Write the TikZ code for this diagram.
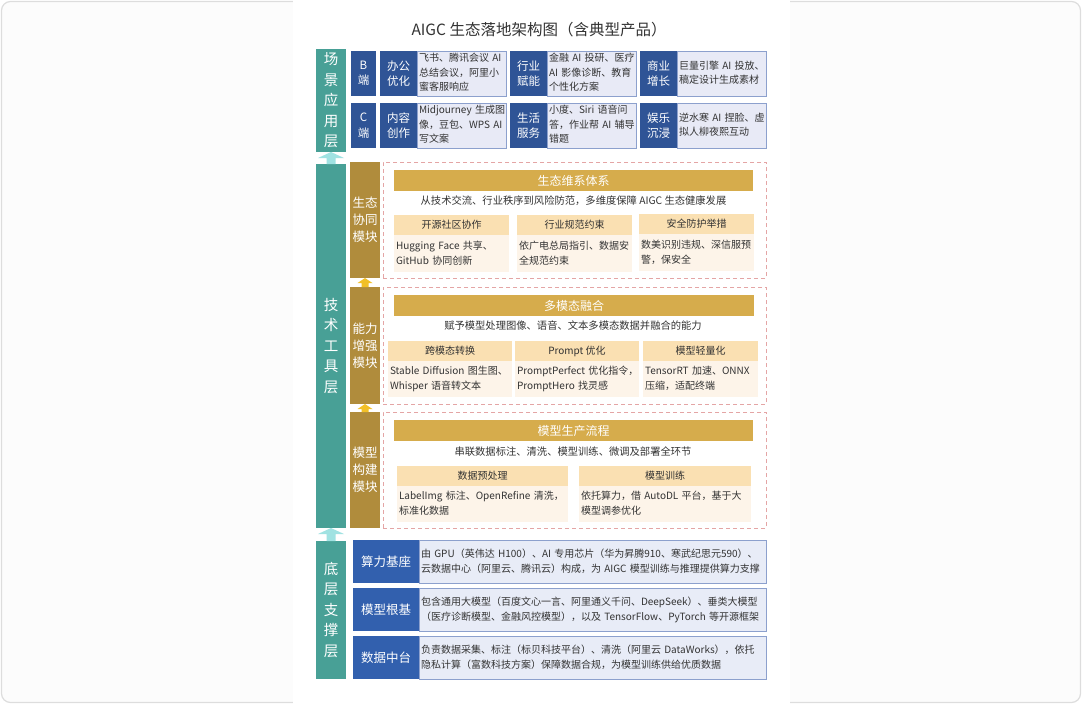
\documentclass[tikz,border=0pt]{standalone}
\usepackage{fontspec}
\setmainfont{Noto Sans CJK SC}
\usetikzlibrary{calc}
\definecolor{framegray}{RGB}{221,221,221}
\definecolor{framebg}{RGB}{252,252,252}
\definecolor{tealbar}{RGB}{72,160,150}
\definecolor{arrcyan}{RGB}{160,226,226}
\definecolor{scblue}{RGB}{47,84,150}
\definecolor{descfill}{RGB}{232,234,246}
\definecolor{descborder}{RGB}{140,160,205}
\definecolor{modgold}{RGB}{176,140,60}
\definecolor{hdrgold}{RGB}{214,172,76}
\definecolor{subhdrc}{RGB}{250,224,178}
\definecolor{subbodyc}{RGB}{253,244,233}
\definecolor{arrgold}{RGB}{242,192,40}
\definecolor{dashred}{RGB}{228,165,165}
\definecolor{btblue}{RGB}{50,96,174}
\definecolor{btfill}{RGB}{232,236,247}
\definecolor{txt}{RGB}{51,51,51}
\tikzset{
  every node/.style={inner xsep=2pt, inner ysep=0pt, outer sep=0pt, text=txt},
  titlef/.style={font=\fontsize{15.5}{18}\selectfont},
  layerbar/.style={fill=tealbar, text=white, align=center, font=\fontsize{14.5}{20.5}\selectfont},
  sclab/.style={fill=scblue, text=white, align=center, font=\fontsize{11.5}{15.5}\selectfont},
  scdesc/.style={fill=descfill, draw=descborder, line width=0.8pt, align=left, font=\fontsize{10}{14.5}\selectfont},
  modbar/.style={fill=modgold, text=white, align=center, font=\fontsize{12.5}{17}\selectfont},
  dashbox/.style={draw=dashred, line width=0.7pt, dash pattern=on 4pt off 3pt},
  hdrbar/.style={fill=hdrgold, text=white, align=center, font=\fontsize{12}{14}\selectfont},
  subtitlef/.style={font=\fontsize{10.3}{12}\selectfont},
  subhdr/.style={fill=subhdrc, align=center, font=\fontsize{10}{12}\selectfont},
  subbody/.style={fill=subbodyc, align=left, font=\fontsize{10}{15}\selectfont},
  btlab/.style={fill=btblue, text=white, align=center, font=\fontsize{12.5}{14}\selectfont},
  btdesc/.style={fill=btfill, draw=descborder, line width=0.8pt, align=left, font=\fontsize{10}{15}\selectfont},
}
% box by corners, centred text
\newcommand{\bx}[7]{%
  \pgfmathsetmacro\bxw{#5-#3}\pgfmathsetmacro\bxh{#6-#4}%
  \node[#1, minimum width=\bxw pt, minimum height=\bxh pt] (#2) at ({(#3+#5)/2},{(#4+#6)/2}) {#7};}
% box by corners, left-aligned lines
\newcommand{\bxl}[7]{%
  \pgfmathsetmacro\bxw{#5-#3}\pgfmathsetmacro\bxh{#6-#4}\pgfmathsetmacro\bxt{#5-#3-4}%
  \node[#1, minimum width=\bxw pt, minimum height=\bxh pt, text width=\bxt pt] (#2) at ({(#3+#5)/2},{(#4+#6)/2}) {\begin{tabular}{@{}l@{}}#7\end{tabular}};}
% block arrow from node anchor #1 up to node anchor #2
\newcommand{\blockarrow}[6]{%
  \fill[#6] let \p1=(#1), \p2=(#2) in
    (\x1-#3/2,\y1) -- (\x1-#3/2,\y2-#5) -- (\x1-#4/2,\y2-#5) -- (\x1,\y2)
    -- (\x1+#4/2,\y2-#5) -- (\x1+#3/2,\y2-#5) -- (\x1+#3/2,\y1) -- cycle;}
\begin{document}
\begin{tikzpicture}[x=1pt,y=-1pt]
\useasboundingbox (0,0) rectangle (1082,704);
\draw[draw=framegray, fill=framebg, rounded corners=9pt, line width=1.2pt] (1.5,1.5) rectangle (1080.5,702.5);
\fill[white] (293,0) rectangle (790,704);
\node[titlef] (title) at (539,30) {AIGC 生态落地架构图（含典型产品）};

% ---------- scenario layer ----------
\bx{layerbar}{scen}{316}{49}{346}{152}{场\\景\\应\\用\\层}
\bx{sclab}{bend}{351}{51}{376}{96}{B\\端}
\bx{sclab}{cend}{351}{103}{376}{148}{C\\端}
\bx{sclab}{bl1}{380}{51}{417}{96}{办公\\优化}
\bxl{scdesc}{bd1}{417}{51}{506}{96}{飞书、腾讯会议 AI\\总结会议，阿里小\\蜜客服响应}
\bx{sclab}{bl2}{510}{51}{547}{96}{行业\\赋能}
\bxl{scdesc}{bd2}{547}{51}{636}{96}{金融 AI 投研、医疗\\AI 影像诊断、教育\\个性化方案}
\bx{sclab}{bl3}{640}{51}{677}{96}{商业\\增长}
\bxl{scdesc}{bd3}{677}{51}{766}{96}{巨量引擎 AI 投放、\\稿定设计生成素材}
\bx{sclab}{cl1}{380}{103}{417}{148}{内容\\创作}
\bxl{scdesc}{cd1}{417}{103}{506}{148}{Midjourney 生成图\\像，豆包、WPS AI\\写文案}
\bx{sclab}{cl2}{510}{103}{547}{148}{生活\\服务}
\bxl{scdesc}{cd2}{547}{103}{636}{148}{小度、Siri 语音问\\答，作业帮 AI 辅导\\错题}
\bx{sclab}{cl3}{640}{103}{677}{148}{娱乐\\沉浸}
\bxl{scdesc}{cd3}{677}{103}{766}{148}{逆水寒 AI 捏脸、虚\\拟人柳夜熙互动}

% ---------- tech layer ----------
\bx{layerbar}{tech}{316}{164}{346}{528}{技\\术\\工\\具\\层}
\bx{modbar}{m1}{350}{162}{380}{278}{生态\\协同\\模块}
\bx{modbar}{m2}{350}{287}{380}{404}{能力\\增强\\模块}
\bx{modbar}{m3}{350}{412}{380}{528}{模型\\构建\\模块}
\bx{dashbox}{d1}{383}{162}{766}{278}{}
\bx{dashbox}{d2}{383}{287}{766}{404}{}
\bx{dashbox}{d3}{383}{412}{766}{528}{}

% box 1
\bx{hdrbar}{h1}{394}{170}{753}{191}{生态维系体系}
\node[subtitlef] (s1) at (573.5,201) {从技术交流、行业秩序到风险防范，多维度保障 AIGC 生态健康发展};
\bx{subhdr}{h1a}{394}{215}{509}{235}{开源社区协作}
\bxl{subbody}{b1a}{394}{235}{509}{272}{Hugging Face 共享、\\GitHub 协同创新}
\bx{subhdr}{h1b}{517}{215}{632}{235}{行业规范约束}
\bxl{subbody}{b1b}{517}{235}{632}{272}{依广电总局指引、数据安\\全规范约束}
\bx{subhdr}{h1c}{639}{214}{754}{234}{安全防护举措}
\bxl{subbody}{b1c}{639}{234}{754}{271}{数美识别违规、深信服预\\警，保安全}

% box 2
\bx{hdrbar}{h2}{394}{295}{754}{316}{多模态融合}
\node[subtitlef] (s2) at (573,326) {赋予模型处理图像、语音、文本多模态数据并融合的能力};
\bx{subhdr}{h2a}{388}{341}{512}{361}{跨模态转换}
\bxl{subbody}{b2a}{388}{361}{512}{397}{Stable Diffusion 图生图、\\Whisper 语音转文本}
\bx{subhdr}{h2b}{515}{341}{639}{361}{Prompt 优化}
\bxl{subbody}{b2b}{515}{361}{639}{397}{PromptPerfect 优化指令，\\PromptHero 找灵感}
\bx{subhdr}{h2c}{643}{341}{758}{361}{模型轻量化}
\bxl{subbody}{b2c}{643}{361}{758}{397}{TensorRT 加速、ONNX\\压缩，适配终端}

% box 3
\bx{hdrbar}{h3}{394}{420}{753}{441}{模型生产流程}
\node[subtitlef] (s3) at (573,452) {串联数据标注、清洗、模型训练、微调及部署全环节};
\bx{subhdr}{h3a}{397}{466}{568}{486}{数据预处理}
\bxl{subbody}{b3a}{397}{486}{568}{522}{LabelImg 标注、OpenRefine 清洗，\\标准化数据}
\bx{subhdr}{h3b}{579}{466}{751}{486}{模型训练}
\bxl{subbody}{b3b}{579}{486}{751}{522}{依托算力，借 AutoDL 平台，基于大\\模型调参优化}

% ---------- base layer ----------
\bx{layerbar}{base}{316}{541}{346}{679}{底\\层\\支\\撑\\层}
\bx{btlab}{r1l}{353}{540}{419}{583}{算力基座}
\bxl{btdesc}{r1d}{419}{540}{766}{583}{由 GPU（英伟达 H100）、AI 专用芯片（华为昇腾910、寒武纪思元590）、\\云数据中心（阿里云、腾讯云）构成，为 AIGC 模型训练与推理提供算力支撑}
\bx{btlab}{r2l}{353}{588}{419}{631}{模型根基}
\bxl{btdesc}{r2d}{419}{588}{766}{631}{包含通用大模型（百度文心一言、阿里通义千问、DeepSeek）、垂类大模型\\（医疗诊断模型、金融风控模型），以及 TensorFlow、PyTorch 等开源框架}
\bx{btlab}{r3l}{353}{636}{419}{679}{数据中台}
\bxl{btdesc}{r3d}{419}{636}{766}{679}{负责数据采集、标注（标贝科技平台）、清洗（阿里云 DataWorks），依托\\隐私计算（富数科技方案）保障数据合规，为模型训练供给优质数据}

% ---------- arrows ----------
\blockarrow{tech.north}{scen.south}{9pt}{26pt}{6pt}{arrcyan}
\blockarrow{base.north}{tech.south}{9pt}{26pt}{6pt}{arrcyan}
\blockarrow{m2.north}{m1.south}{7pt}{15pt}{5pt}{arrgold}
\blockarrow{m3.north}{m2.south}{7pt}{15pt}{5pt}{arrgold}
\end{tikzpicture}
\end{document}
